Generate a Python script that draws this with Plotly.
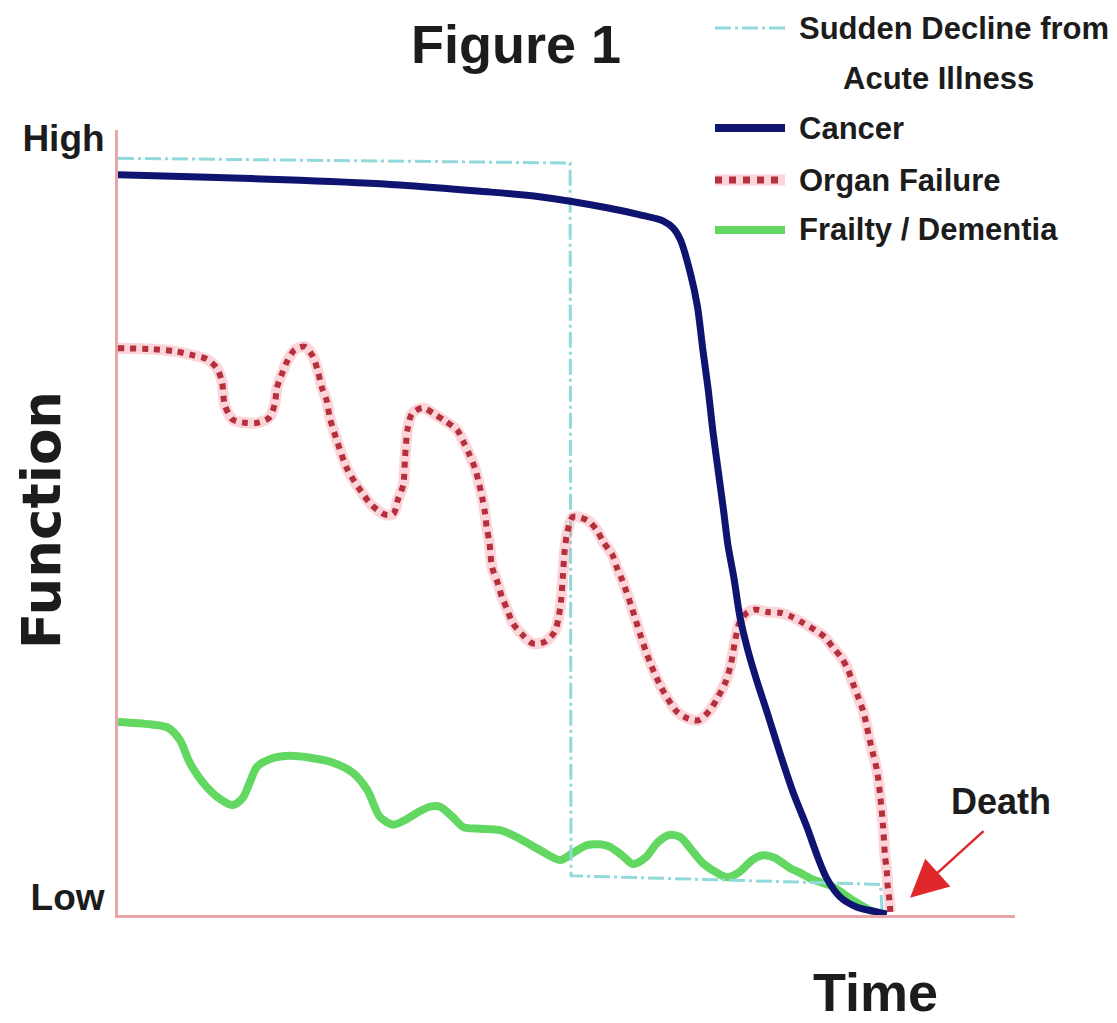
import plotly.graph_objects as go

# ---- data (time 0-100, function 0-100) ----
cancer_t = [0, 9.1, 20.3, 31.4, 40.4, 47.0, 54.5, 58.2, 60.8, 61.9, 62.7, 63.8, 64.6, 65.2, 65.8,
            66.3, 66.9, 67.5, 68.0, 68.7, 69.3, 70.2, 71.2, 72.4, 73.8, 75.3, 76.8, 78.0, 79.0,
            80.5, 82.4, 84.6, 85.7]
cancer_f = [94.3, 94.0, 93.6, 93.0, 92.2, 91.5, 90.1, 89.2, 88.4, 87.5, 86.0, 81.8, 77.5, 72.0, 66.9,
            61.8, 56.7, 51.6, 47.1, 42.7, 38.2, 33.8, 29.9, 25.7, 20.6, 15.5, 11.2, 7.4, 4.7,
            2.3, 1.0, 0.4, 0.1]

organ_t = [0, 3.6, 6.4, 8.4, 9.9, 11.0, 11.6, 11.9, 12.8, 14.2, 15.5, 16.9, 17.5, 17.7, 18.3, 18.8,
           19.7, 20.8, 21.7, 22.3, 22.7, 23.3, 23.6, 24.5, 25.6, 27.2, 28.3, 29.8, 30.7, 31.2, 31.8,
           32.0, 32.3, 32.8, 34.0, 35.3, 36.5, 37.8, 38.5, 39.2, 39.8, 40.2, 40.6, 40.9, 41.1, 41.4,
           41.7, 42.3, 42.8, 43.4, 44.0, 45.0, 46.2, 47.6, 48.7, 49.1, 49.4, 49.6, 49.8, 50.1, 50.7,
           52.3, 53.4, 54.1, 55.1, 55.6, 56.2, 57.3, 58.2, 59.3, 60.6, 62.3, 63.4, 64.7, 66.0, 66.9,
           67.7, 68.3, 68.8, 69.3, 70.1, 71.0, 72.4, 73.8, 75.1, 76.4, 77.7, 78.8, 79.7, 80.7, 81.4,
           81.9, 82.5, 83.1, 83.5, 83.8, 84.2, 84.6, 85.0, 85.3, 85.5, 85.7, 85.8, 86.0, 86.1]
organ_f = [72.2, 72.1, 71.8, 71.3, 70.8, 69.7, 67.9, 65.0, 63.1, 62.7, 62.7, 63.4, 65.2, 67.1, 69.0, 70.4,
           72.0, 72.4, 71.2, 69.2, 67.3, 65.4, 63.4, 60.1, 56.7, 53.8, 52.2, 51.0, 51.1, 52.9, 54.8,
           58.3, 62.0, 63.9, 64.6, 63.8, 62.9, 61.8, 60.3, 58.6, 56.9, 55.2, 53.2, 51.3, 49.4, 47.5,
           44.3, 42.4, 40.5, 38.9, 37.2, 35.8, 34.6, 34.8, 36.1, 37.8, 40.1, 43.3, 46.5, 48.8, 50.7,
           50.3, 49.0, 47.5, 45.9, 44.3, 42.7, 39.1, 35.8, 32.2, 28.9, 25.9, 25.1, 24.8, 26.1, 27.8,
           29.6, 31.8, 35.0, 37.3, 38.5, 38.9, 38.6, 38.5, 38.0, 37.2, 36.3, 35.4, 34.1, 32.7, 31.2,
           29.6, 27.8, 25.9, 23.9, 22.3, 20.4, 18.5, 14.9, 11.2, 7.6, 5.7, 3.8, 1.9, 0.4]

frailty_t = [0, 3.6, 5.5, 6.9, 8.0, 9.9, 11.6, 12.8, 13.9, 14.7, 15.5, 17.3, 19.2, 21.1, 24.0, 26.2,
             27.8, 29.2, 30.7, 32.0, 33.3, 34.8, 35.9, 37.3, 38.5, 40.4, 42.6, 44.5, 47.0, 49.3, 50.7,
             52.3, 53.7, 54.8, 56.2, 57.4, 58.8, 60.2, 61.5, 62.7, 63.8, 65.2, 66.6, 67.9, 69.3, 70.7,
             71.9, 73.2, 74.9, 76.0, 77.5, 79.7, 81.9, 84.2, 85.0]
frailty_f = [24.6, 24.3, 23.9, 22.3, 19.4, 16.3, 14.6, 14.0, 14.9, 16.9, 18.9, 20.0, 20.3, 20.1, 19.4, 18.1,
             15.9, 12.5, 11.5, 12.1, 13.0, 13.8, 13.8, 12.5, 11.2, 11.0, 10.8, 9.9, 8.3, 7.0, 7.9,
             8.9, 9.0, 8.7, 7.6, 6.5, 7.3, 9.3, 10.2, 9.9, 8.5, 6.6, 5.5, 4.8, 5.5, 7.0,
             7.6, 7.3, 6.0, 5.4, 4.5, 3.6, 1.9, 0.4, 0.1]

sudden_t = [0, 50.4, 50.5, 85.0, 85.2]
sudden_f = [96.4, 95.8, 5.0, 3.9, 0.3]

series_names = ["Sudden Decline from", "Cancer", "Organ Failure", "Frailty / Dementia"]
y_tick_vals = [2.3, 99.0]
y_tick_text = ["Low", "High"]
death_point = (88.3, 2.2)

FONT = "Liberation Sans, Arial, sans-serif"
WIDE = "DejaVu Sans, Liberation Sans, sans-serif"
TXT = "#1c1c1c"

C_CYAN = "#92d9dc"
C_NAVY = "#0f1470"
C_RED = "#b3303c"
C_RED_HALO = "rgba(245,150,160,0.40)"
C_GREEN = "#62d862"

fig = go.Figure()

fig.add_trace(go.Scatter(x=frailty_t, y=frailty_f, mode="lines", name=series_names[3],
                         line=dict(color=C_GREEN, width=8, shape="spline", smoothing=0.8),
                         showlegend=False, hoverinfo="skip"))
fig.add_trace(go.Scatter(x=sudden_t, y=sudden_f, mode="lines", name="Sudden Decline from Acute Illness",
                         line=dict(color=C_CYAN, width=3, dash="16px,4px,3px,4px"),
                         showlegend=False, hoverinfo="skip"))
fig.add_trace(go.Scatter(x=organ_t, y=organ_f, mode="lines", name="Organ Failure halo",
                         line=dict(color=C_RED_HALO, width=11, shape="spline", smoothing=0.8),
                         showlegend=False, hoverinfo="skip"))
fig.add_trace(go.Scatter(x=organ_t, y=organ_f, mode="lines", name=series_names[2],
                         line=dict(color=C_RED, width=6, dash="dot", shape="spline", smoothing=0.8),
                         showlegend=False, hoverinfo="skip"))
fig.add_trace(go.Scatter(x=cancer_t, y=cancer_f, mode="lines", name=series_names[1],
                         line=dict(color=C_NAVY, width=7, shape="spline", smoothing=0.8),
                         showlegend=False, hoverinfo="skip"))

# page body adds an 8px offset; compensate so the plot sits at screen x 118..1015, y 130..915
OFF = 8
W, H = 1117 - OFF, 1023 - OFF
ML, MR, MT, MB = 118 - OFF, 102, 130 - OFF, 108
PX0, PY1 = 118, 915
PW, PH = 897, 785


def px(xp):
    return (xp - PX0) / PW


def py(yp):
    return (PY1 - yp) / PH


# manual legend
legend_items = [
    (28, C_CYAN, 3, "16px,4px,3px,4px", series_names[0]),
    (128, C_NAVY, 8, "solid", series_names[1]),
    (180, C_RED, 7, "dot", series_names[2]),
    (230, C_GREEN, 8, "solid", series_names[3]),
]
shapes = []
annotations = []
for yy, col, wd, dash, label in legend_items:
    if col == C_RED:
        shapes.append(dict(type="line", xref="paper", yref="paper", x0=px(715), x1=px(785),
                           y0=py(yy), y1=py(yy), line=dict(color=C_RED_HALO, width=11)))
    shapes.append(dict(type="line", xref="paper", yref="paper", x0=px(715), x1=px(785),
                       y0=py(yy), y1=py(yy), line=dict(color=col, width=wd, dash=dash)))
    annotations.append(dict(text=label, xref="paper", yref="paper", x=px(797), y=py(yy),
                            xanchor="left", yanchor="middle", showarrow=False,
                            font=dict(family=FONT, size=31, color=TXT, weight="bold")))
annotations.append(dict(text="Acute Illness", xref="paper", yref="paper", x=px(938), y=py(78),
                        xanchor="center", yanchor="middle", showarrow=False,
                        font=dict(family=FONT, size=31, color=TXT, weight="bold")))

annotations += [
    dict(text="Figure 1", xref="paper", yref="paper", x=px(516), y=py(44), xanchor="center",
         yanchor="middle", showarrow=False, font=dict(family=FONT, size=54, color=TXT, weight="bold")),
    dict(text="Function", xref="paper", yref="paper", x=px(41), y=py(520), xanchor="center",
         yanchor="middle", textangle=-90, showarrow=False,
         font=dict(family=WIDE, size=53, color=TXT, weight="bold")),
    dict(text="Time", xref="paper", yref="paper", x=px(875), y=py(992), xanchor="center",
         yanchor="middle", showarrow=False, font=dict(family=FONT, size=54, color=TXT, weight="bold")),
    dict(text="Death", xref="paper", yref="paper", x=px(1001), y=py(801), xanchor="center",
         yanchor="middle", showarrow=False, font=dict(family=FONT, size=36, color=TXT, weight="bold")),
    dict(text="", x=death_point[0], y=death_point[1], xref="x", yref="y", ax=75, ay=-68,
         showarrow=True, arrowhead=2, arrowsize=3, arrowwidth=2.5, arrowcolor="#e0282c", standoff=0),
]

fig.update_layout(
    width=W, height=H,
    margin=dict(l=ML, r=MR, t=MT, b=MB, pad=0, autoexpand=False),
    paper_bgcolor="white", plot_bgcolor="white",
    showlegend=False,
    shapes=shapes, annotations=annotations,
    xaxis=dict(range=[0, 100], showgrid=False, zeroline=False, showticklabels=False, ticks="",
               showline=True, linecolor="#eaa5a8", linewidth=3, fixedrange=True, automargin=False),
    yaxis=dict(range=[0, 100], showgrid=False, zeroline=False, tickvals=y_tick_vals, ticktext=y_tick_text,
               ticks="outside", ticklen=3, tickcolor="rgba(0,0,0,0)",
               tickfont=dict(family=FONT, size=37, color=TXT, weight="bold"),
               showline=True, linecolor="#eaa5a8", linewidth=3, fixedrange=True, automargin=False),
)

fig.write_html("out.html")
